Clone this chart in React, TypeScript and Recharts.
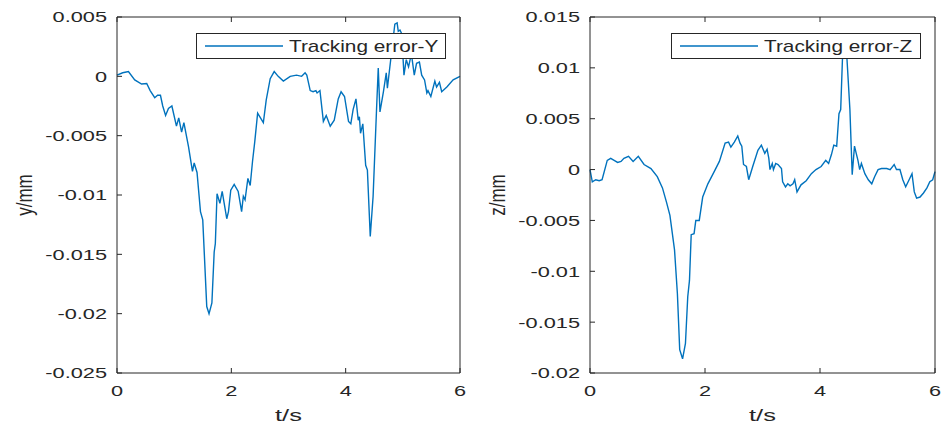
import { Legend, Line, LineChart, XAxis, YAxis } from "recharts";

// tracking error in y (t in s, error in mm)
const timeY = [
    0, 0.1, 0.2, 0.31, 0.43, 0.52, 0.58, 0.66, 0.71, 0.76, 0.8, 0.85, 0.9, 0.96, 1.04, 1.08, 1.13, 1.17, 1.25,
    1.32, 1.35, 1.4, 1.46, 1.5, 1.57, 1.61, 1.66, 1.7, 1.72, 1.75, 1.8, 1.84, 1.92, 1.95, 1.99, 2.05, 2.12, 2.18,
    2.21, 2.24, 2.29, 2.33, 2.37, 2.41, 2.46, 2.56, 2.61, 2.68, 2.75, 2.82, 2.91, 3.03, 3.14, 3.23, 3.29, 3.32,
    3.38, 3.43, 3.48, 3.5, 3.55, 3.61, 3.66, 3.73, 3.8, 3.87, 3.92, 3.98, 4.05, 4.09, 4.13, 4.18, 4.22, 4.24,
    4.26, 4.3, 4.35, 4.38, 4.43, 4.48, 4.54, 4.57, 4.6, 4.66, 4.71, 4.73, 4.8, 4.86, 4.9, 4.92, 4.95, 4.98, 5.02,
    5.06, 5.1, 5.15, 5.2, 5.24, 5.29, 5.33, 5.38, 5.42, 5.44, 5.49, 5.56, 5.59, 5.64, 5.68, 5.77, 5.88, 6,
];
const errorY = [
    0.0001, 0.0003, 0.0004, -0.0003, -0.00065, -0.0006, -0.0012, -0.0018, -0.0016, -0.0016, -0.0025, -0.0033,
    -0.0027, -0.0025, -0.0042, -0.0035, -0.0047, -0.0039, -0.0059, -0.008, -0.0073, -0.0081, -0.0114, -0.0121,
    -0.0194, -0.02, -0.0191, -0.0148, -0.0141, -0.0099, -0.0107, -0.0097, -0.012, -0.0114, -0.0096, -0.0091,
    -0.0097, -0.0114, -0.0101, -0.0104, -0.0086, -0.0092, -0.0072, -0.0055, -0.0031, -0.0039, -0.002, -0.0002,
    0.0004, 0, -0.0004, 0, 0.0001, 0, 0.0003, 0.0001, -0.0012, -0.0013, -0.0012, -0.0014, -0.0012, -0.0038,
    -0.0033, -0.0042, -0.0037, -0.0019, -0.0013, -0.0017, -0.0038, -0.004, -0.0028, -0.0019, -0.0037, -0.0034,
    -0.0048, -0.004, -0.0075, -0.0079, -0.0135, -0.0101, -0.0028, 0.0007, -0.003, -0.0013, 0.0003, -0.001, 0.0019,
    0.0044, 0.0045, 0.0038, 0.0039, 0.0036, 0.0001, 0.0014, 0.0008, 0.0019, 0.0001, 0.0011, 0.0012, 0.0001,
    -0.0003, -0.0014, -0.0012, -0.0017, -0.0004, -0.0009, -0.0005, -0.0013, -0.0009, -0.0003, 0,
];

// tracking error in z
const timeZ = [
    0, 0.04, 0.1, 0.16, 0.21, 0.3, 0.36, 0.42, 0.48, 0.54, 0.59, 0.67, 0.75, 0.84, 0.94, 1.06, 1.17, 1.26, 1.33,
    1.39, 1.47, 1.52, 1.56, 1.61, 1.66, 1.7, 1.73, 1.76, 1.81, 1.84, 1.9, 1.96, 2.05, 2.16, 2.25, 2.35, 2.41, 2.45,
    2.51, 2.57, 2.61, 2.64, 2.67, 2.72, 2.76, 2.83, 2.92, 2.98, 3.04, 3.08, 3.11, 3.13, 3.17, 3.19, 3.23, 3.27,
    3.33, 3.35, 3.4, 3.44, 3.48, 3.53, 3.56, 3.6, 3.67, 3.76, 3.85, 3.93, 4.02, 4.1, 4.15, 4.2, 4.24, 4.29, 4.33,
    4.36, 4.39, 4.43, 4.47, 4.52, 4.56, 4.6, 4.63, 4.66, 4.69, 4.72, 4.78, 4.84, 4.9, 4.95, 5.01, 5.07, 5.16, 5.22,
    5.29, 5.33, 5.39, 5.44, 5.49, 5.55, 5.6, 5.64, 5.68, 5.74, 5.8, 5.86, 5.91, 5.96, 6,
];
const errorZ = [
    0, -0.0012, -0.001, -0.0011, -0.001, 0.0009, 0.0011, 0.0009, 0.0007, 0.0008, 0.0011, 0.0013, 0.0008, 0.0013,
    0.0005, 0.0001, -0.0007, -0.0018, -0.0032, -0.0045, -0.0079, -0.0122, -0.0177, -0.0186, -0.0171, -0.0125,
    -0.0109, -0.0064, -0.0063, -0.005, -0.005, -0.0027, -0.0014, -0.0002, 0.0008, 0.0026, 0.0027, 0.0022, 0.0027,
    0.0033, 0.0026, 0.0023, 0.0005, 0.0003, -0.001, 0.0003, 0.0019, 0.0024, 0.0016, 0.002, 0.0011, 0, 0.0006, 0,
    0.0006, 0.0005, 0.0001, -0.0012, -0.0017, -0.0014, -0.0016, -0.0014, -0.001, -0.0022, -0.0015, -0.0011,
    -0.0004, 0, 0.0003, 0.0009, 0.0006, 0.0015, 0.0024, 0.0023, 0.0055, 0.0059, 0.0108, 0.0125, 0.0108, 0.0059,
    -0.0005, 0.0023, 0.0016, 0.0009, 0, 0.0006, -0.0004, -0.001, -0.0014, -0.0007, 0, 0.0001, 0.0001, 0, 0.0005,
    0, 0, -0.001, -0.0017, -0.001, -0.0004, -0.0022, -0.0028, -0.0027, -0.0023, -0.0018, -0.0012, -0.001, -0.0002,
];

const timeTicks = [0, 2, 4, 6];
const yTicks = [0.005, 0, -0.005, -0.01, -0.015, -0.02, -0.025];
const zTicks = [0.015, 0.01, 0.005, 0, -0.005, -0.01, -0.015, -0.02];

const AXIS = "#262626";
const BLUE = "#0072BD";
const FONT = "'Liberation Sans', Arial, sans-serif";
const STRETCH = 1.45;

const XTick = ({ x, y, payload }: any) => (
    <text transform={`translate(${x},${y}) scale(${STRETCH},1)`} textAnchor="middle" dy="0.72em"
        fontSize={15} fontFamily={FONT} fill={AXIS}>
        {payload.value}
    </text>
);

const YTick = ({ x, y, payload }: any) => (
    <text transform={`translate(${x},${y}) scale(${STRETCH},1)`} textAnchor="end" dy="0.36em"
        fontSize={15} fontFamily={FONT} fill={AXIS}>
        {payload.value}
    </text>
);

// top / right box axes keep their inward tick marks but show no labels
const NoLabel = () => null;

const XTitle = ({ viewBox, text }: any) => (
    <text transform={`translate(${viewBox.x + viewBox.width / 2},${viewBox.y + 48}) scale(1.5,1)`}
        textAnchor="middle" fontSize={17} fontFamily={FONT} fill={AXIS}>
        {text}
    </text>
);

const YTitle = ({ viewBox, text }: any) => (
    <text transform={`translate(${viewBox.x + 32},${viewBox.y + viewBox.height / 2}) scale(1.3,1) rotate(-90)`}
        textAnchor="middle" fontSize={17} fontFamily={FONT} fill={AXIS}>
        {text}
    </text>
);

const LegendBox = ({ payload }: any) => (
    <div style={{ width: 250, height: 26, border: `1px solid ${AXIS}`, background: "#fff", boxSizing: "border-box" }}>
        <svg width={248} height={24} style={{ display: "block" }}>
            <line x1={8} x2={86} y1={12} y2={12} stroke={BLUE} strokeWidth={1.3} />
            <text transform="translate(92,18) scale(1.3,1)" fontSize={16} fontFamily={FONT} fill={AXIS}>
                {payload?.[0]?.value}
            </text>
        </svg>
    </div>
);

function ErrorPlot({ times, errors, ticks, domain, name, yLabel, legendLeft, width, right }: any) {
    const data = times.map((t: number, i: number) => ({ t, v: errors[i] }));
    return (
        <LineChart width={width} height={428} data={data} margin={{ top: 16, right, bottom: 0, left: 0 }}>
            <XAxis dataKey="t" type="number" domain={[0, 6]} ticks={timeTicks} interval={0}
                height={55} tickSize={-5} tickMargin={17} stroke={AXIS} tick={<XTick />}
                label={<XTitle text="t/s" />} />
            <XAxis xAxisId="top" orientation="top" dataKey="t" type="number" domain={[0, 6]} ticks={timeTicks}
                interval={0} height={1} tickSize={-5} stroke={AXIS} tick={<NoLabel />} />
            <YAxis type="number" domain={domain} ticks={ticks} interval={0} width={117} tickSize={-5}
                tickMargin={15} stroke={AXIS} tick={<YTick />} label={<YTitle text={yLabel} />} />
            <YAxis yAxisId="right" orientation="right" type="number" domain={domain} ticks={ticks} interval={0}
                width={1} tickSize={-5} stroke={AXIS} tick={<NoLabel />} />
            <Line dataKey="v" name={name} type="linear" stroke={BLUE} strokeWidth={1.4} dot={false}
                isAnimationActive={false} />
            <Legend layout="horizontal" verticalAlign="middle" align="center" content={<LegendBox />}
                wrapperStyle={{ left: legendLeft, top: 33, width: 250, height: 26 }} />
        </LineChart>
    );
}

export default function App() {
    return (
        <div style={{ position: "absolute", left: 0, top: 0, width: 947, height: 428, background: "#fff", fontFamily: FONT }}>
            <div style={{ position: "absolute", left: 0, top: 0 }}>
                <ErrorPlot times={timeY} errors={errorY} ticks={yTicks} domain={[-0.025, 0.005]}
                    name="Tracking error-Y" yLabel="y/mm" legendLeft={196} width={473} right={12} />
            </div>
            <div style={{ position: "absolute", left: 473, top: 0 }}>
                <ErrorPlot times={timeZ} errors={errorZ} ticks={zTicks} domain={[-0.02, 0.015]}
                    name="Tracking error-Z" yLabel="z/mm" legendLeft={198} width={474} right={11} />
            </div>
        </div>
    );
}
